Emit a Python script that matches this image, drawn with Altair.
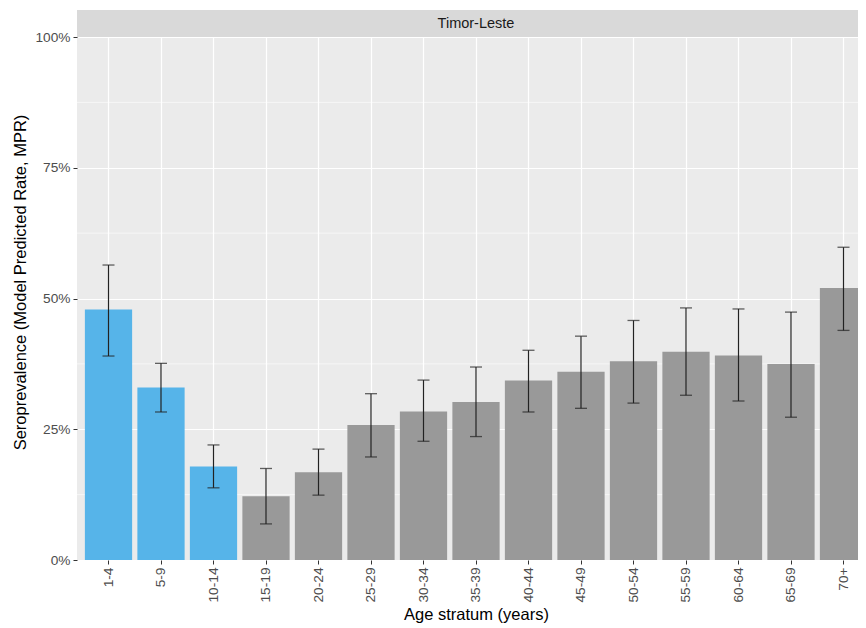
import altair as alt
import pandas as pd

# ---- data ----
ages = ["1-4", "5-9", "10-14", "15-19", "20-24", "25-29", "30-34", "35-39",
        "40-44", "45-49", "50-54", "55-59", "60-64", "65-69", "70+"]
mpr = [0.479, 0.330, 0.179, 0.122, 0.168, 0.258, 0.284, 0.302,
       0.343, 0.360, 0.380, 0.398, 0.391, 0.375, 0.520]
lower = [0.390, 0.283, 0.138, 0.069, 0.124, 0.197, 0.227, 0.236,
         0.283, 0.290, 0.300, 0.315, 0.304, 0.273, 0.439]
upper = [0.564, 0.376, 0.220, 0.175, 0.212, 0.318, 0.344, 0.369,
         0.401, 0.428, 0.458, 0.482, 0.480, 0.474, 0.598]
group = ["child"] * 3 + ["other"] * 12
country = "Timor-Leste"
y_breaks = [0, 0.25, 0.5, 0.75, 1.0]
y_minor = [0.125, 0.375, 0.625, 0.875]

df = pd.DataFrame({"age": ages, "mpr": mpr, "lower": lower,
                   "upper": upper, "group": group})
minor_df = pd.DataFrame({"v": y_minor})
strip_df = pd.DataFrame({"country": [country]})

FONT = "Liberation Sans"
PW = 781      # visible panel width (page body is 850 px wide)
FULLW = 798   # full panel width, cut at the right edge like the reference
PH = 523

xscale = alt.Scale(domain=ages, range=[0, FULLW], paddingInner=0.1, paddingOuter=0.15)
yscale = alt.Scale(domain=[0, 1], nice=False, zero=True)

x_axis = alt.Axis(title="Age stratum (years)", labelAngle=-90, labelFontSize=13.7,
                  labelColor="#4D4D4D", labelFont=FONT, labelPadding=3,
                  tickColor="#333333", tickSize=4, domain=False,
                  grid=True, gridColor="#FFFFFF", gridWidth=1.2, bandPosition=0.5,
                  titleFont=FONT, titleFontSize=16.5, titleFontWeight="normal",
                  titleColor="#000000", titleX=FULLW / 2, titleY=59,
                  titleBaseline="alphabetic", titleAlign="center")
y_axis = alt.Axis(title="Seroprevalence (Model Predicted Rate, MPR)", values=y_breaks,
                  format=".0%", labelFontSize=13.7, labelColor="#4D4D4D", labelFont=FONT,
                  labelPadding=3, tickColor="#333333", tickSize=4, domain=False,
                  grid=True, gridColor="#FFFFFF", gridWidth=1.2,
                  titleFont=FONT, titleFontSize=16.5, titleFontWeight="normal",
                  titleColor="#000000", titleX=-57, titleY=245, titleAngle=-90,
                  titleAlign="center", titleBaseline="middle")

base = alt.Chart(df)

minor = alt.Chart(minor_df).mark_rule(color="#FFFFFF", strokeWidth=0.6).encode(
    y=alt.Y("v:Q", scale=yscale, axis=y_axis),
    x=alt.value(0), x2=alt.value(PW),
)

bars = base.mark_bar().encode(
    x=alt.X("age:N", sort=ages, scale=xscale, axis=x_axis),
    y=alt.Y("mpr:Q", scale=yscale, axis=y_axis),
    color=alt.Color("group:N", scale=alt.Scale(domain=["child", "other"],
                                              range=["#56B4E9", "#999999"]), legend=None),
)

x_plain = alt.X("age:N", sort=ages, scale=xscale)
err = base.mark_rule(color="#222222", strokeWidth=1.2).encode(
    x=x_plain, y=alt.Y("lower:Q", scale=yscale), y2="upper:Q")
cap_hi = base.mark_tick(color="#222222", size=12, thickness=1.3).encode(
    x=x_plain, y=alt.Y("upper:Q", scale=yscale))
cap_lo = base.mark_tick(color="#222222", size=12, thickness=1.3).encode(
    x=x_plain, y=alt.Y("lower:Q", scale=yscale))

strip = alt.Chart(strip_df).mark_rect(color="#D9D9D9").encode(
    x=alt.value(0), x2=alt.value(PW), y=alt.value(-27), y2=alt.value(0))
strip_text = alt.Chart(strip_df).mark_text(font=FONT, fontSize=14.5, color="#1A1A1A",
                                           baseline="middle", align="center").encode(
    x=alt.value(FULLW / 2), y=alt.value(-13.5), text="country:N")

chart = alt.layer(minor, bars, err, cap_hi, cap_lo, strip, strip_text).properties(
    width=PW, height=PH,
    autosize=alt.AutoSizeParams(type="none"),
    padding={"left": 69, "top": 29, "right": 0, "bottom": 64},
    background="#FFFFFF",
).configure_view(fill="#EBEBEB", strokeWidth=0).configure_tick(bandSize=12)

chart.save("out.html", embed_options={"renderer": "svg", "actions": False})
